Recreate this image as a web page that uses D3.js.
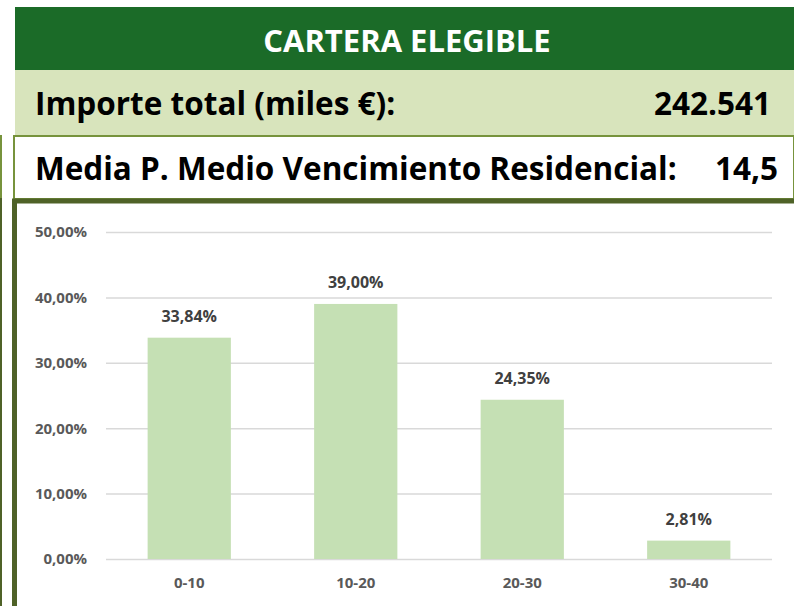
<!DOCTYPE html>
<html>
<head>
<meta charset="utf-8">
<script src="https://cdn.jsdelivr.net/npm/d3@7"></script>
<style>
  body { margin: 0; background: #fff; }
  svg text { font-family: "Open Sans", Lato, sans-serif; font-weight: bold; }
</style>
</head>
<body>
<svg id="chart" width="794" height="606"></svg>
<script>
// data
const categories = ["0-10", "10-20", "20-30", "30-40"];
const shares = [0.3384, 0.39, 0.2435, 0.0281];
const yTicks = [0, 0.1, 0.2, 0.3, 0.4, 0.5];
const titleText = "CARTERA ELEGIBLE";
const headerLabels = ["Importe total (miles €):", "Media P. Medio Vencimiento Residencial:"];
const headerValues = ["242.541", "14,5"];

const esES = d3.formatLocale({decimal: ",", thousands: ".", grouping: [3], currency: ["", " €"]});
const pct = esES.format(".2%");

const svg = d3.select("#chart");
const W = 794, H = 606;

svg.append("rect").attr("width", W).attr("height", H).attr("fill", "#fff");

// header blocks
svg.append("rect").attr("x", 15).attr("y", 7).attr("width", W - 15).attr("height", 63).attr("fill", "#1b6b28");
svg.append("rect").attr("x", 15).attr("y", 70).attr("width", W - 15).attr("height", 66).attr("fill", "#d8e4bc");
svg.append("rect").attr("x", 14).attr("y", 136).attr("width", W - 14).attr("height", 63)
  .attr("fill", "#fff").attr("stroke", "#77933c").attr("stroke-width", 2);

// left frame lines
svg.append("line").attr("x1", 1).attr("x2", 1).attr("y1", 135).attr("y2", 198)
  .attr("stroke", "#77933c").attr("stroke-width", 2);
svg.append("line").attr("x1", 1).attr("x2", 1).attr("y1", 198).attr("y2", H)
  .attr("stroke", "#4f6228").attr("stroke-width", 2);
svg.append("path").attr("d", `M14.5,${H} V201 H${W}`)
  .attr("fill", "none").attr("stroke", "#4f6228").attr("stroke-width", 5);

svg.append("text").attr("x", 407).attr("y", 52).attr("text-anchor", "middle")
  .attr("fill", "#fff").attr("font-size", 31).text(titleText);

const rowsY = [115, 180];
const valueX = [771, 778];
headerLabels.forEach((t, i) => {
  svg.append("text").attr("x", 35).attr("y", rowsY[i]).attr("font-size", 31.5)
    .attr("fill", "#000").text(t);
  svg.append("text").attr("x", valueX[i]).attr("y", rowsY[i]).attr("font-size", 31.5)
    .attr("text-anchor", "end").attr("fill", "#000").text(headerValues[i]);
});

// chart
const x = d3.scaleBand().domain(categories).range([106, 772]).paddingInner(0.5).paddingOuter(0.25);
const y = d3.scaleLinear().domain([0, 0.5]).range([559, 232]);

const yAxis = svg.append("g").attr("transform", "translate(106,0)")
  .call(d3.axisLeft(y).tickValues(yTicks).tickSize(-666).tickPadding(19).tickFormat(pct));
yAxis.select(".domain").remove();
yAxis.selectAll(".tick line").attr("stroke", "#d9d9d9").attr("stroke-width", 1.5);
yAxis.selectAll(".tick text").attr("fill", "#595959").attr("font-size", 15)
  .style("font-family", "'Open Sans', sans-serif").style("font-weight", "bold");

svg.selectAll("rect.bar").data(shares).enter().append("rect").attr("class", "bar")
  .attr("x", (d, i) => x(categories[i]))
  .attr("y", d => y(d))
  .attr("width", x.bandwidth())
  .attr("height", d => y(0) - y(d))
  .attr("fill", "#c5e0b4");

svg.selectAll("text.val").data(shares).enter().append("text").attr("class", "val")
  .attr("x", (d, i) => x(categories[i]) + x.bandwidth() / 2)
  .attr("y", d => y(d) - 16)
  .attr("text-anchor", "middle").attr("font-size", 16).attr("fill", "#404040")
  .text(d => pct(d));

const xAxis = svg.append("g").attr("transform", "translate(0,559)")
  .call(d3.axisBottom(x).tickSize(0).tickPadding(18));
xAxis.select(".domain").remove();
xAxis.selectAll(".tick text").attr("fill", "#595959").attr("font-size", 15)
  .style("font-family", "'Open Sans', sans-serif").style("font-weight", "bold");
</script>
</body>
</html>
